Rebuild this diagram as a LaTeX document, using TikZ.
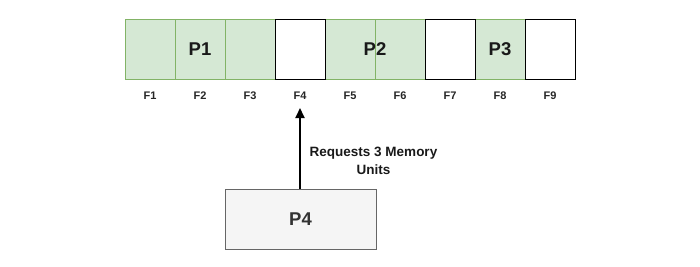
\documentclass[tikz,border=0pt]{standalone}
\usepackage{fontspec}
\setmainfont{Liberation Sans}
\usetikzlibrary{arrows.meta,calc}
\definecolor{gfill}{HTML}{D5E8D4}
\definecolor{gline}{HTML}{82B366}
\definecolor{pfill}{HTML}{F5F5F5}
\definecolor{pline}{HTML}{666666}
\definecolor{ptext}{HTML}{333333}
\begin{document}
\begin{tikzpicture}[x=1pt,y=-1pt,
  cell/.style={minimum width=50pt,minimum height=60pt,inner sep=0pt,outer sep=0pt,line width=0.8pt},
  used/.style={cell,fill=gfill,draw=gline},
  free/.style={cell,fill=white,draw=black},
  flabel/.style={font=\fontsize{11}{13}\selectfont\bfseries,text=black!85,inner sep=0pt},
  plabel/.style={font=\fontsize{18.5}{22}\selectfont\bfseries,text=black!90,inner sep=0pt},
  procbox/.style={minimum width=151pt,minimum height=60pt,fill=pfill,draw=pline,line width=0.8pt,font=\fontsize{18.5}{22}\selectfont\bfseries,text=ptext},
  req/.style={-{Triangle[length=10pt,width=9pt]},line width=2pt,black}]
\useasboundingbox (0,0) rectangle (700,266);
% used cells
\node[used] (f1) at (150,49) {};
\node[used] (f2) at (200,49) {};
\node[used] (f3) at (250,49) {};
\node[used] (f5) at (350,49) {};
\node[used] (f6) at (400,49) {};
\node[used] (f8) at (500,49) {};
% free cells
\node[free] (f4) at (300,49) {};
\node[free] (f7) at (450,49) {};
\node[free] (f9) at (550,49) {};
% process labels
\node[plabel] (p1) at (f2) {P1};
\node[plabel] (p2) at ($(f5)!0.5!(f6)$) {P2};
\node[plabel] (p3) at (f8) {P3};
% frame labels
\foreach \i in {1,...,9} {
  \node[flabel] (l\i) at ([yshift=-17pt]f\i.south) {F\i};
}
% process P4
\node[procbox] (p4) at (300.5,219) {P4};
\coordinate (tip) at (300,108);
\draw[req] (p4.north -| tip) -- (tip);
\node[font=\fontsize{13.5}{18}\selectfont\bfseries,align=center,text=black!90] (rq) at (373.5,161) {Requests 3 Memory\\Units};
\end{tikzpicture}
\end{document}
